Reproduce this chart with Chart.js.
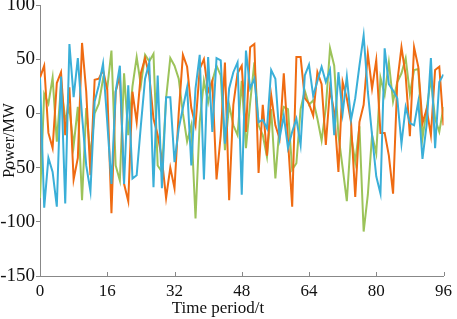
<!DOCTYPE html>
<html>
<head>
<meta charset="utf-8">
<script src="https://cdn.jsdelivr.net/npm/chart.js@4"></script>
<style>
  html, body { margin: 0; padding: 0; background: #fff; }
  #box { width: 457px; height: 319px; }
</style>
</head>
<body>
<div id="box"><canvas id="grafico"></canvas></div>
<script>
// periodos 0..96
const periodos = Array.from({ length: 97 }, (_, i) => i);

const laranja = [33, 44, -18, -32, 28, 38, -20, 24, -61, -41, 65, 20, -57, 31, 32, 40, 22,
  -92, 20, 35, -65, -81, 20, -8, 37, 51, 35, -5, -20, -42, -78, -50,
  -69, 0, 54, 43, 5, -11, 41, 50, 20, 30, -61, -20, 47, -80, 8, 37,
  44, -17, 61, 64, -55, 8, -39, 17, -11, -23, 37, -25, -86, 52, 52, 14,
  9, -2, 38, 27, -29, 23, 1, -54, 29, 14, -8, -77, -8, 8, 55, 23,
  49, -18, -18, -39, -74, 29, 61, 35, -21, 61, 43, -9, 4, -20, 40, 43, -11];

const verde = [-78, 18, 9, 33, -26, 26, -5, 4, -30, 6, -80, 5, -40, 0, 9, 32, 23,
  58, -48, -62, 37, -20, 25, 52, 26, 54, 48, 55, -48, -54, 14, 51,
  44, 32, 0, -26, -11, -97, -8, 30, 10, 30, 44, 35, -34, 8, -11, -20,
  30, -32, 10, 47, -11, -20, -40, 4, -60, -11, 6, 4, -52, -46, 4, 21,
  8, 12, -5, -25, 5, 60, 44, -20, -50, -81, -20, -45, -12, -109, -75, -20,
  -37, 33, 17, 47, 11, 29, 37, 51, 18, 40, 41, -23, 4, 32, -5, -17, 6];

const azul = [33, -87, -41, -54, -86, 34, -83, 64, 15, 51, -2, -48, -72, 11, 26, 46, -8,
  -65, 20, 44, -65, 26, -60, -57, -11, 32, 47, -68, 35, -69, 15, 15,
  -45, -14, 5, 24, -48, 23, 54, -61, 52, -17, 51, 49, -28, 23, 38, 47,
  -75, 58, 23, 32, -8, -6, -14, 40, 32, -23, -2, -32, -17, -5, -29, 35,
  45, 16, 30, 43, 29, 40, -20, 38, 0, 34, -6, 14, 44, 72, 20, -20,
  -58, -74, 60, 27, 21, 14, -28, 6, -9, -11, 11, -42, -10, 51, -32, 29, 36];

const ticksX = [0, 16, 32, 48, 64, 80, 96];
const ticksY = [-150, -100, -50, 0, 50, 100];
const tituloX = "Time period/t";

const fonte = "'Liberation Serif', 'Times New Roman', serif";

function serie(dados, cor, ordem) {
  return {
    data: dados.map((v, i) => ({ x: periodos[i], y: v })),
    borderColor: cor,
    backgroundColor: cor,
    borderWidth: 2,
    pointRadius: 0,
    tension: 0,
    order: ordem
  };
}

// ticks do eixo x para dentro + titulo do eixo x (um pouco deslocado p/ esquerda como no original)
const eixoX = {
  id: "eixoX",
  afterDraw(chart) {
    const { ctx, chartArea, scales } = chart;
    ctx.save();
    ctx.strokeStyle = "#888";
    ctx.lineWidth = 1;
    ticksX.forEach(v => {
      const px = Math.round(scales.x.getPixelForValue(v)) + 0.5;
      ctx.beginPath();
      ctx.moveTo(px, chartArea.bottom);
      ctx.lineTo(px, chartArea.bottom - 4);
      ctx.stroke();
    });
    ctx.fillStyle = "#111";
    ctx.font = "17px " + fonte;
    ctx.textAlign = "center";
    ctx.textBaseline = "alphabetic";
    ctx.fillText(tituloX, 218, 313);
    ctx.restore();
  }
};

const ctx = document.getElementById("grafico");
const myChart = new Chart(ctx, {
  type: "line",
  data: {
    datasets: [
      serie(laranja, "#ef6b12", 2),
      serie(verde, "#9cc35a", 3),
      serie(azul, "#3aafd8", 1)
    ]
  },
  options: {
    responsive: true,
    maintainAspectRatio: false,
    animation: false,
    layout: { padding: { top: 5, right: 10, left: 0, bottom: 0 } },
    plugins: { legend: { display: false }, tooltip: { enabled: false } },
    scales: {
      x: {
        type: "linear",
        min: 0,
        max: 96,
        afterBuildTicks: (s) => { s.ticks = ticksX.map(v => ({ value: v })); },
        afterFit: (s) => { s.height = 43; },
        grid: { display: true, drawOnChartArea: false, drawTicks: false, color: "#888" },
        border: { color: "#888", width: 1 },
        ticks: { color: "#111", font: { family: fonte, size: 17 }, padding: 5, maxRotation: 0 },
        title: { display: false }
      },
      y: {
        min: -150,
        max: 100,
        afterBuildTicks: (s) => { s.ticks = ticksY.map(v => ({ value: v })); },
        afterFit: (s) => { s.width = 40; s.paddingTop = 0; s.paddingBottom = 0; },
        grid: { display: true, drawOnChartArea: false, tickLength: 4, color: "#888" },
        border: { color: "#888", width: 1 },
        ticks: { color: "#111", font: { family: fonte, size: 19 }, padding: 1 },
        title: { display: true, text: "Power/MW", color: "#111", font: { family: fonte, size: 16 }, padding: { top: 0, bottom: 0 } }
      }
    }
  },
  plugins: [eixoX]
});
</script>
</body>
</html>
